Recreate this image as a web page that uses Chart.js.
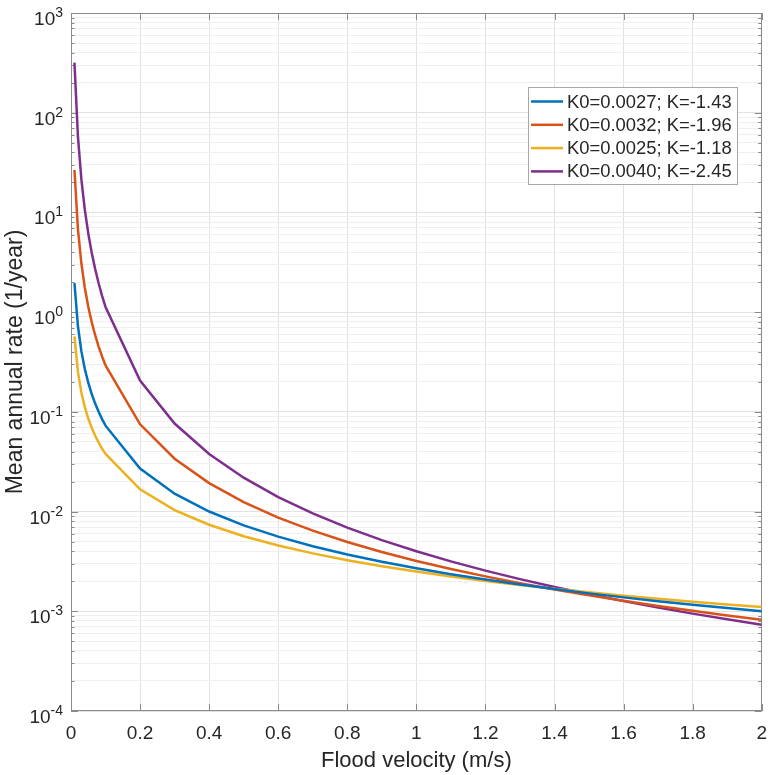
<!DOCTYPE html>
<html><head><meta charset="utf-8">
<script src="https://cdn.jsdelivr.net/npm/chart.js@4.4.1/dist/chart.umd.min.js"></script>
<style>html,body{margin:0;padding:0;background:#fff;}canvas{display:block;}</style>
</head><body>
<canvas id="c" width="778" height="775"></canvas>
<script>
// ---- data ----
const velocity = [0.01,0.02,0.03,0.04,0.05,0.06,0.07,0.08,0.09,0.1,
  0.2,0.3,0.4,0.5,0.6,0.7,0.8,0.9,1.0,1.1,1.2,1.3,1.4,1.5,1.6,1.7,1.8,1.9,2.0];
const seriesLabels = ['K0=0.0027; K=-1.43','K0=0.0032; K=-1.96','K0=0.0025; K=-1.18','K0=0.0040; K=-2.45'];
const rateBlue = [1.956,0.7258,0.4064,0.2694,0.1959,0.1509,0.1210,0.1000,0.0845,0.0727,
  0.02697,0.01510,0.01001,0.007275,0.005606,0.004497,0.003714,0.003139,0.0027,0.002356,0.002081,0.001856,0.001669,0.001512,0.001379,0.001264,0.001165,0.001079,0.001002];
const rateOrange = [26.62,6.841,3.091,1.758,1.135,0.7945,0.5872,0.4518,0.3588,0.2919,
  0.07501,0.03388,0.01928,0.01245,0.008708,0.006438,0.004956,0.003933,0.0032,0.002655,0.002239,0.001914,0.001654,0.001446,0.001274,0.001131,0.001011,0.0009094,0.0008224];
const rateYellow = [0.5728,0.2528,0.1566,0.1115,0.08573,0.06915,0.05766,0.04925,0.04285,0.03784,
  0.01670,0.01035,0.007372,0.005664,0.004568,0.003808,0.003254,0.002831,0.0025,0.002234,0.002016,0.001835,0.001681,0.001549,0.001435,0.001336,0.001249,0.001172,0.001103];
const ratePurple = [317.7,58.15,21.54,10.64,6.160,3.941,2.701,1.948,1.459,1.127,
  0.2063,0.07640,0.03776,0.02186,0.01398,0.009584,0.006911,0.005178,0.0040,0.003167,0.002559,0.002103,0.001754,0.001482,0.001265,0.001090,0.0009476,0.0008300,0.0007320];
const xTickValues = [0,0.2,0.4,0.6,0.8,1,1.2,1.4,1.6,1.8,2];
const yDecadeExponents = [-4,-3,-2,-1,0,1,2,3];
const xTitle = 'Flood velocity (m/s)';
const yTitle = 'Mean annual rate (1/year)';

// ---- styling ----
const FONT = '"Liberation Sans", Arial, Helvetica, sans-serif';
const colors = ['#0072BD','#D95319','#EDB120','#7E2F8E'];
const TEXT = '#262626';
const AXIS = '#8a8a8a';
const GRID_MAJOR = '#e2e2e2';
const GRID_MINOR = '#efefef';

const allSeries = [rateBlue, rateOrange, rateYellow, ratePurple];
const datasets = allSeries.map((vals, i) => ({
  label: seriesLabels[i],
  data: velocity.map((v, j) => ({x: v, y: vals[j]})),
  borderColor: colors[i],
  backgroundColor: colors[i],
  borderWidth: 2.5,
  pointRadius: 0,
  tension: 0,
  fill: false
}));

const yTickList = [];
yDecadeExponents.forEach(e => {
  if (e === yDecadeExponents[yDecadeExponents.length - 1]) { yTickList.push(Math.pow(10, e)); return; }
  for (let m = 1; m <= 9; m++) yTickList.push(m * Math.pow(10, e));
});
const isDecade = v => Math.abs(Math.log10(v) - Math.round(Math.log10(v))) < 1e-9;

const matlabAxes = {
  id: 'matlabAxes',
  beforeDatasetsDraw(chart) {
    const {ctx, chartArea: a, scales: {x, y}} = chart;
    ctx.save();
    ctx.strokeStyle = AXIS;
    ctx.lineWidth = 1;
    // box
    ctx.strokeRect(Math.round(a.left) + 0.5, Math.round(a.top) + 0.5,
      Math.round(a.right - a.left) - 1, Math.round(a.bottom - a.top) - 1);
    ctx.beginPath();
    // x ticks (bottom & top, inward)
    xTickValues.forEach(v => {
      const px = Math.round(x.getPixelForValue(v)) + 0.5;
      ctx.moveTo(px, a.bottom); ctx.lineTo(px, a.bottom - 7);
      ctx.moveTo(px, a.top); ctx.lineTo(px, a.top + 7);
    });
    // y ticks (left & right, inward)
    yTickList.forEach(v => {
      const py = Math.round(y.getPixelForValue(v)) + 0.5;
      const len = isDecade(v) ? 7 : 3.5;
      ctx.moveTo(a.left, py); ctx.lineTo(a.left + len, py);
      ctx.moveTo(a.right, py); ctx.lineTo(a.right - len, py);
    });
    ctx.stroke();
    // y tick labels 10^n
    ctx.fillStyle = TEXT;
    ctx.textBaseline = 'alphabetic';
    ctx.textAlign = 'left';
    yDecadeExponents.forEach(e => {
      const py = y.getPixelForValue(Math.pow(10, e));
      const sup = String(e);
      ctx.font = '14px ' + FONT;
      const supW = ctx.measureText(sup).width;
      ctx.font = '19px ' + FONT;
      const baseW = ctx.measureText('10').width;
      const right = a.left - 8;
      ctx.fillText('10', right - supW - baseW, py + 12);
      ctx.font = '14px ' + FONT;
      ctx.fillText(sup, right - supW, py + 4);
    });
    ctx.restore();
  },
  afterDatasetsDraw(chart) {
    const {ctx} = chart;
    ctx.save();
    const bx = 528, by = 87, bw = 209, bh = 97;
    ctx.fillStyle = '#ffffff';
    ctx.fillRect(bx, by, bw, bh);
    ctx.strokeStyle = '#a8a8a8';
    ctx.lineWidth = 1;
    ctx.strokeRect(bx + 0.5, by + 0.5, bw, bh);
    ctx.font = '18.4px ' + FONT;
    ctx.textBaseline = 'middle';
    ctx.textAlign = 'left';
    chart.data.datasets.forEach((ds, i) => {
      const cy = 101.5 + i * 23.3;
      ctx.strokeStyle = ds.borderColor;
      ctx.lineWidth = 2.5;
      ctx.beginPath();
      ctx.moveTo(531, cy); ctx.lineTo(563, cy);
      ctx.stroke();
      ctx.fillStyle = TEXT;
      ctx.fillText(ds.label, 567, cy + 1);
    });
    ctx.restore();
  }
};

new Chart(document.getElementById('c'), {
  type: 'line',
  data: {datasets},
  options: {
    responsive: false,
    devicePixelRatio: 1,
    animation: false,
    layout: {padding: {top: 13, right: 8, left: 0, bottom: 0}},
    plugins: {legend: {display: false}, tooltip: {enabled: false}},
    scales: {
      x: {
        type: 'linear', min: 0, max: 2,
        afterBuildTicks: s => { s.ticks = xTickValues.map(v => ({value: v})); },
        afterFit: s => { s.height = 64; },
        grid: {color: GRID_MAJOR, drawTicks: false},
        border: {display: false},
        ticks: {
          padding: 11, color: TEXT, font: {family: FONT, size: 19}, autoSkip: false, maxRotation: 0,
          callback: v => String(Number(Number(v).toFixed(1)))
        },
        title: {display: true, text: xTitle, color: TEXT, font: {family: FONT, size: 22}, padding: {top: 0, bottom: 1}}
      },
      y: {
        type: 'logarithmic', min: 1e-4, max: 1e3,
        afterBuildTicks: s => { s.ticks = yTickList.map(v => ({value: v})); },
        afterFit: s => { s.width = 71; },
        grid: {
          drawTicks: false,
          color: c => (c.tick && isDecade(c.tick.value)) ? GRID_MAJOR : GRID_MINOR
        },
        border: {display: false},
        ticks: {display: false, autoSkip: false},
        title: {display: true, text: yTitle, color: TEXT, font: {family: FONT, size: 23}, padding: {top: 1.5, bottom: 0}}
      }
    }
  },
  plugins: [matlabAxes]
});
</script>
</body></html>
